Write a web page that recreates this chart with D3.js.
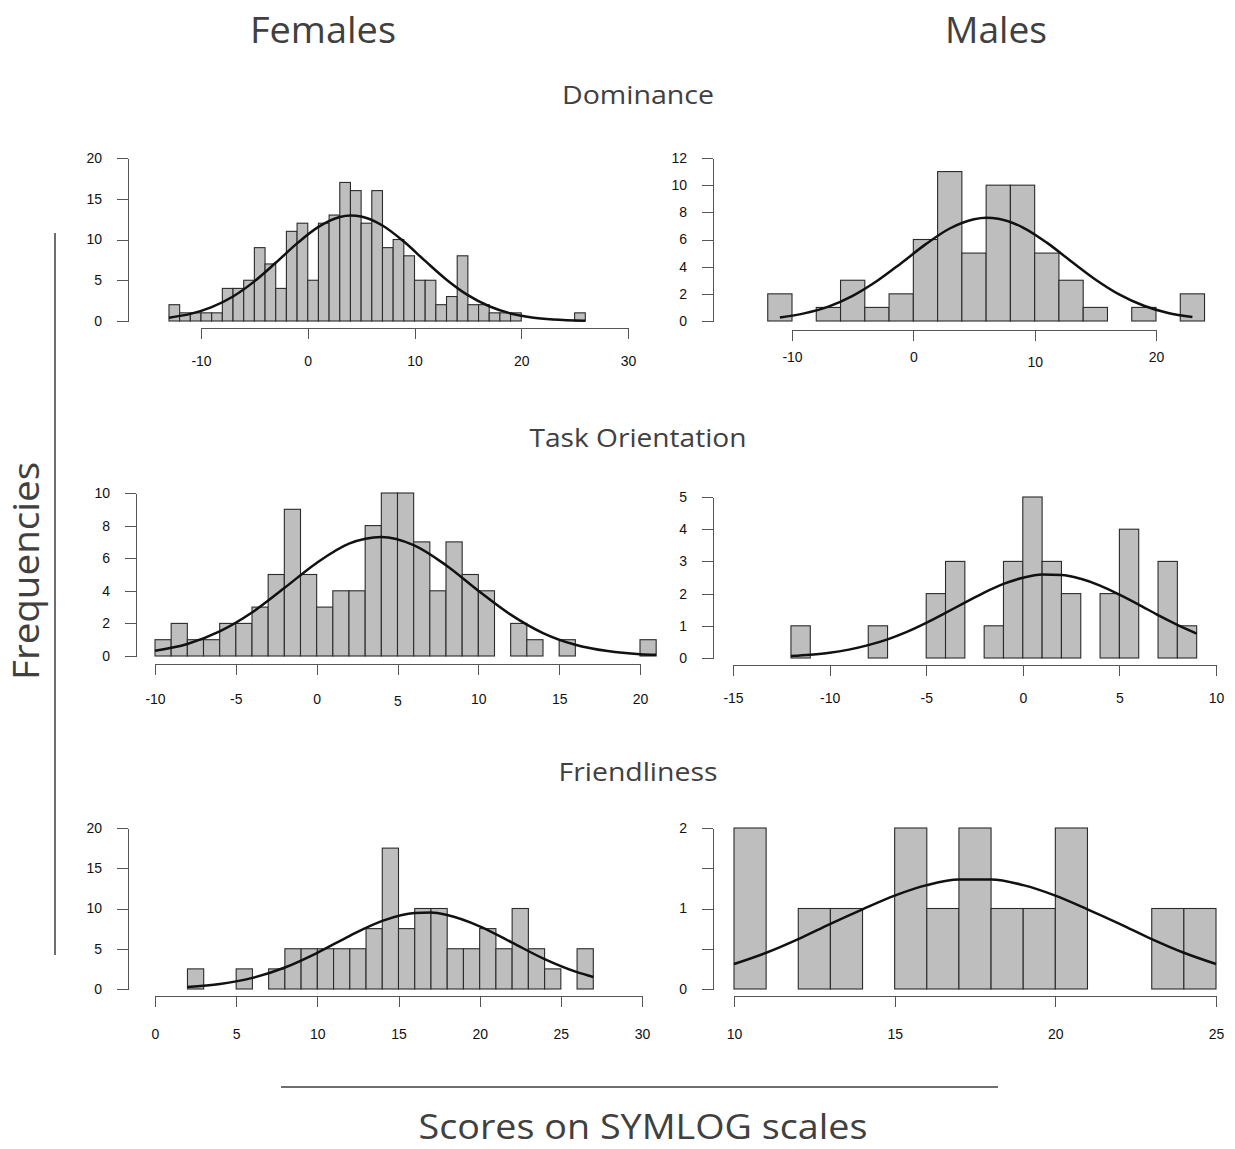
<!DOCTYPE html>
<html>
<head>
<meta charset="utf-8">
<script src="https://d3js.org/d3.v7.min.js"></script>
<style>
  body { margin: 0; background: #fff; }
  .big { font-family: "Open Sans", "Noto Sans", sans-serif; fill: #404040; }
  .tick-lab { font-family: "Liberation Sans", Arial, sans-serif; font-size: 14px; fill: #111; }
</style>
</head>
<body>
<svg id="chart" width="1235" height="1149"></svg>
<script>
// ---- data ----
// histogram counts, one per bin, starting at the given left edge
const domFemStart = -13, domFemWidth = 1;
const domFemCounts = [2,1,1,1,1,4,4,5,9,7,4,11,12,5,12,13,17,16,12,16,9,10,8,5,5,2,3,8,2,2,1,1,1,0,0,0,0,0,1];
const domMaleStart = -12, domMaleWidth = 2;
const domMaleCounts = [2,0,1,3,1,2,6,11,5,10,10,5,3,1,0,1,0,2];
const taskFemStart = -10, taskFemWidth = 1;
const taskFemCounts = [1,2,1,1,2,2,3,5,9,5,3,4,4,8,10,10,7,4,7,5,4,0,2,1,0,1,0,0,0,0,1];
const taskMaleStart = -12, taskMaleWidth = 1;
const taskMaleCounts = [1,0,0,0,1,0,0,2,3,0,1,3,5,3,2,0,2,4,0,3,1];
const friendFemStart = 2, friendFemWidth = 1;
const friendFemCounts = [2.5,0,0,2.5,0,2.5,5,5,5,5,5,7.5,17.5,7.5,10,10,5,5,7.5,5,10,5,2.5,0,5];
const friendMaleStart = 10, friendMaleWidth = 1;
const friendMaleCounts = [2,0,1,1,0,2,1,2,1,1,2,0,0,1,1];

// fitted curves, sampled points (x, height)
const domFemCurveX = [-13,-11,-9,-7,-5,-3,-1,1,3,4,5,7,9,11,13,15,17,19,21,23,26];
const domFemCurveY = [0.41,0.87,1.70,3.01,4.86,7.14,9.52,11.55,12.77,12.95,12.83,11.72,9.75,7.37,5.07,3.17,1.81,0.93,0.44,0.19,0.04];
const domMaleCurveX = [-11,-9,-7,-5,-3,-1,1,3,5,6,7,9,11,13,15,17,19,21,23];
const domMaleCurveY = [0.26,0.56,1.06,1.85,2.94,4.26,5.64,6.81,7.49,7.6,7.53,6.90,5.77,4.40,3.06,1.94,1.12,0.59,0.29];
const taskFemCurveX = [-10,-8,-6,-4,-2,0,2,4,6,8,10,12,14,16,18,20,21];
const taskFemCurveY = [0.32,0.74,1.51,2.67,4.17,5.71,6.89,7.30,6.80,5.57,4.01,2.54,1.41,0.69,0.30,0.11,0.07];
const taskMaleCurveX = [-12,-11,-10,-9,-8,-7,-6,-5,-4,-3,-2,-1,0,1,2,3,4,5,6,7,8,9];
const taskMaleCurveY = [0.06,0.10,0.16,0.26,0.40,0.58,0.81,1.09,1.40,1.72,2.03,2.30,2.49,2.59,2.58,2.46,2.25,1.97,1.66,1.33,1.03,0.76];
const friendFemCurveX = [2,4,6,8,10,12,14,16,17,18,20,22,24,26,27];
const friendFemCurveY = [0.25,0.62,1.38,2.67,4.50,6.61,8.46,9.44,9.49,9.19,7.79,5.76,3.71,2.09,1.49];
const friendMaleCurveX = [10,11,12,13,14,15,16,17,18,19,20,21,22,23,24,25];
const friendMaleCurveY = [0.31,0.45,0.62,0.81,0.99,1.16,1.29,1.36,1.36,1.29,1.16,0.99,0.81,0.62,0.45,0.31];

// axis ticks and labels
const domFemXTicks = [-10,0,10,20,30], domFemYTicks = [0,5,10,15,20], domFemYLabels = ["0","5","10","15","20"];
const domMaleXTicks = [-10,0,10,20], domMaleYTicks = [0,2,4,6,8,10,12], domMaleYLabels = ["0","2","4","6","8","10","12"];
const taskFemXTicks = [-10,-5,0,5,10,15,20], taskFemYTicks = [0,2,4,6,8,10], taskFemYLabels = ["0","2","4","6","8","10"];
const taskMaleXTicks = [-15,-10,-5,0,5,10], taskMaleYTicks = [0,1,2,3,4,5], taskMaleYLabels = ["0","1","2","3","4","5"];
const friendFemXTicks = [0,5,10,15,20,25,30], friendFemYTicks = [0,5,10,15,20], friendFemYLabels = ["0","5","10","15","20"];
const friendMaleXTicks = [10,15,20,25], friendMaleYTicks = [0,0.5,1,1.5,2], friendMaleYLabels = ["0","","1","","2"];

const columnTitles = ["Females", "Males"];
const rowTitles = ["Dominance", "Task Orientation", "Friendliness"];

// ---- layout ----
const svg = d3.select("#chart");

const panels = [
  {start: domFemStart, w: domFemWidth, counts: domFemCounts, cx: domFemCurveX, cy: domFemCurveY,
   xt: domFemXTicks, yt: domFemYTicks, yl: domFemYLabels,
   axX: 128, y0: 321, yTop: 158, xAxY: 328, xPx: [201, 628], labY: 361, shift: {}},
  {start: domMaleStart, w: domMaleWidth, counts: domMaleCounts, cx: domMaleCurveX, cy: domMaleCurveY,
   xt: domMaleXTicks, yt: domMaleYTicks, yl: domMaleYLabels,
   axX: 713, y0: 321, yTop: 158, xAxY: 330, xPx: [792, 1156], labY: 357, shift: {10: 5}},
  {start: taskFemStart, w: taskFemWidth, counts: taskFemCounts, cx: taskFemCurveX, cy: taskFemCurveY,
   xt: taskFemXTicks, yt: taskFemYTicks, yl: taskFemYLabels,
   axX: 136, y0: 656, yTop: 493, xAxY: 664, xPx: [155, 640], labY: 699, shift: {5: 2}},
  {start: taskMaleStart, w: taskMaleWidth, counts: taskMaleCounts, cx: taskMaleCurveX, cy: taskMaleCurveY,
   xt: taskMaleXTicks, yt: taskMaleYTicks, yl: taskMaleYLabels,
   axX: 713, y0: 658, yTop: 497, xAxY: 665, xPx: [733, 1216], labY: 698, shift: {}},
  {start: friendFemStart, w: friendFemWidth, counts: friendFemCounts, cx: friendFemCurveX, cy: friendFemCurveY,
   xt: friendFemXTicks, yt: friendFemYTicks, yl: friendFemYLabels,
   axX: 128, y0: 989, yTop: 828, xAxY: 996, xPx: [155, 642], labY: 1034, shift: {}},
  {start: friendMaleStart, w: friendMaleWidth, counts: friendMaleCounts, cx: friendMaleCurveX, cy: friendMaleCurveY,
   xt: friendMaleXTicks, yt: friendMaleYTicks, yl: friendMaleYLabels,
   axX: 713, y0: 989, yTop: 828, xAxY: 996, xPx: [734, 1216], labY: 1034, shift: {}}
];

panels.forEach(p => {
  const x = d3.scaleLinear().domain([p.xt[0], p.xt[p.xt.length - 1]]).range(p.xPx);
  const y = d3.scaleLinear().domain([0, p.yt[p.yt.length - 1]]).range([p.y0, p.yTop]);
  const g = svg.append("g");

  // bars
  const bins = p.counts.map((c, i) => ({x0: p.start + i * p.w, x1: p.start + (i + 1) * p.w, c}));
  g.selectAll("rect.bar").data(bins).enter().append("rect")
    .attr("x", d => x(d.x0))
    .attr("y", d => y(d.c))
    .attr("width", d => x(d.x1) - x(d.x0))
    .attr("height", d => y(0) - y(d.c))
    .attr("fill", "#bebebe")
    .attr("stroke", "#2b2b2b")
    .attr("stroke-width", 1.1);

  // curve
  const pts = p.cx.map((v, i) => [v, p.cy[i]]);
  g.append("path")
    .datum(pts)
    .attr("d", d3.line().x(d => x(d[0])).y(d => y(d[1])).curve(d3.curveMonotoneX))
    .attr("fill", "none")
    .attr("stroke", "#111")
    .attr("stroke-width", 2.5);

  // y axis
  const ya = d3.axisLeft(y).tickValues(p.yt).tickSize(11).tickSizeOuter(0).tickFormat((d, i) => p.yl[i]);
  const yg = g.append("g").attr("transform", `translate(${p.axX},0)`).call(ya);
  yg.select(".domain").attr("stroke", "#555");
  yg.selectAll(".tick line").attr("stroke", "#555");
  yg.selectAll(".tick text").attr("class", "tick-lab").attr("x", -26).attr("font-size", null).attr("font-family", null);

  // x axis (line spans first to last tick only)
  const xa = d3.axisBottom(x).tickValues(p.xt).tickSize(11).tickSizeOuter(0);
  const xg = g.append("g").attr("transform", `translate(0,${p.xAxY})`).call(xa);
  xg.select(".domain").attr("stroke", "#555");
  xg.selectAll(".tick line").attr("stroke", "#555");
  xg.selectAll(".tick text").attr("class", "tick-lab").attr("font-size", null).attr("font-family", null)
    .attr("y", d => p.labY - p.xAxY + (p.shift[d] || 0)).attr("dy", "0.35em").text(d => String(d));
  g.selectAll(".tick-lab").attr("fill", "#111");
  svg.selectAll(".domain, .tick line").attr("shape-rendering", "crispEdges");
});

// ---- titles ----
svg.append("text").attr("class", "big").attr("x", 323).attr("y", 43).attr("text-anchor", "middle")
  .attr("font-size", 36).attr("textLength", 146).attr("lengthAdjust", "spacingAndGlyphs").text(columnTitles[0]);
svg.append("text").attr("class", "big").attr("x", 996).attr("y", 43).attr("text-anchor", "middle")
  .attr("font-size", 36).attr("textLength", 102).attr("lengthAdjust", "spacingAndGlyphs").text(columnTitles[1]);

const rowY = [104, 447, 781];
const rowW = [152, 217, 159];
rowTitles.forEach((t, i) => {
  svg.append("text").attr("class", "big").attr("x", 638).attr("y", rowY[i]).attr("text-anchor", "middle")
    .attr("font-size", 26).attr("textLength", rowW[i]).attr("lengthAdjust", "spacingAndGlyphs").text(t);
});

// outer axis titles and guide lines
svg.append("line").attr("x1", 55).attr("x2", 55).attr("y1", 233).attr("y2", 955)
  .attr("stroke", "#6e6e6e").attr("stroke-width", 2);
svg.append("text").attr("class", "big").attr("transform", "translate(39,571) rotate(-90)")
  .attr("text-anchor", "middle").attr("font-size", 37).attr("textLength", 218).attr("lengthAdjust", "spacingAndGlyphs")
  .text("Frequencies");

svg.append("line").attr("x1", 281).attr("x2", 998).attr("y1", 1087).attr("y2", 1087)
  .attr("stroke", "#6e6e6e").attr("stroke-width", 2);
svg.append("text").attr("class", "big").attr("x", 643).attr("y", 1139).attr("text-anchor", "middle")
  .attr("font-size", 35).attr("textLength", 449).attr("lengthAdjust", "spacingAndGlyphs")
  .text("Scores on SYMLOG scales");
</script>
</body>
</html>
